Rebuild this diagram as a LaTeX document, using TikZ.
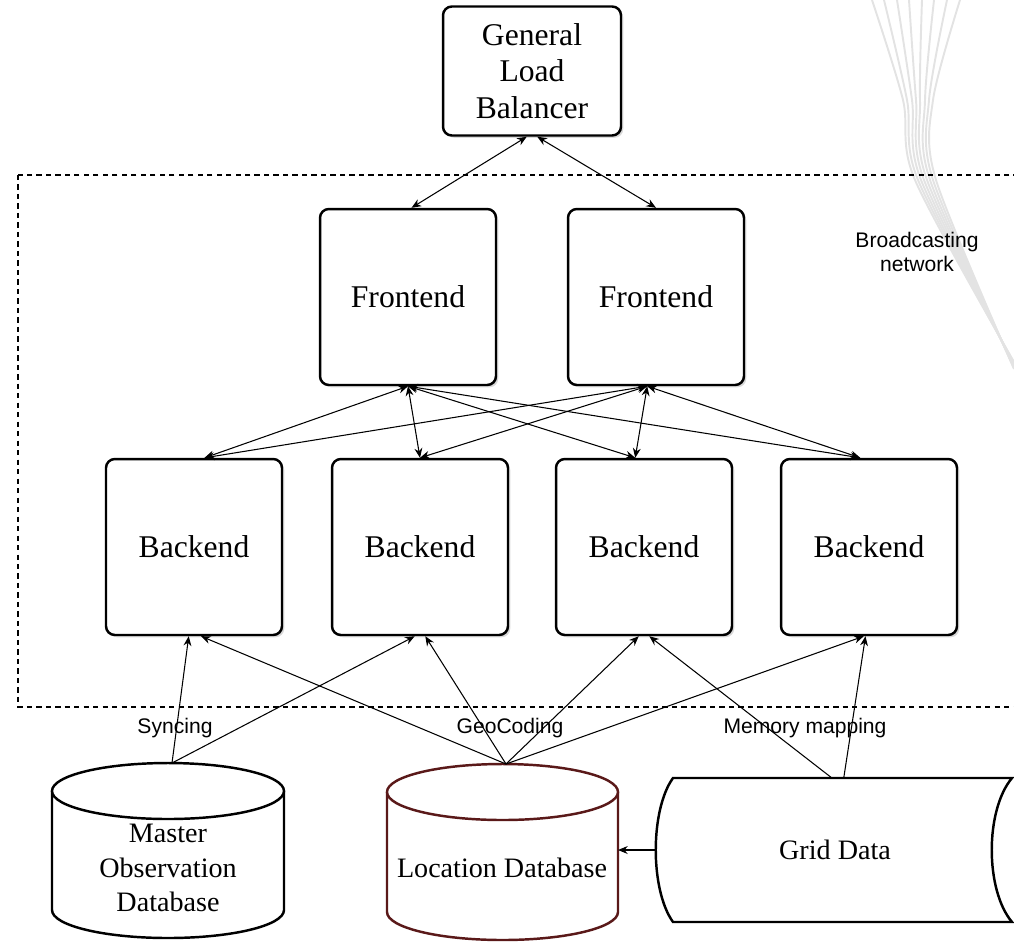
\documentclass[tikz,border=0pt]{standalone}
\usepackage{fontspec}
\setmainfont{Liberation Serif}
\setsansfont{Liberation Sans}
\usepackage{tikz}
\usetikzlibrary{arrows.meta,shadows}
\definecolor{dbred}{RGB}{90,25,25}
\tikzset{
  font={\fontsize{18pt}{20.7pt}\selectfont},
  box/.style={draw=black,line width=1.4pt,rounded corners=5pt,fill=white,
    minimum width=3.52cm,minimum height=3.52cm,align=center,
    drop shadow={shadow xshift=1.3pt,shadow yshift=-1.3pt,opacity=0.3}},
  dbtext/.style={font={\fontsize{16pt}{19.6pt}\selectfont},align=center},
  lbl/.style={font={\sffamily\fontsize{12pt}{13.6pt}\selectfont},align=center},
  swoosh/.style={gray!22,line width=1.1pt},
  link/.style={black,line width=0.6pt,{Stealth[length=5.5pt,width=4.5pt]}-{Stealth[length=5.5pt,width=4.5pt]}},
  feed/.style={black,line width=0.6pt,-{Stealth[length=5.5pt,width=4.5pt]}},
  dbline/.style={line width=1.4pt,fill=white}}

\begin{document}
\begin{tikzpicture}[x=0.02cm,y=0.02cm]
\tikzstyle{every node}+=[inner sep=0pt]
\clip (0,0) rectangle (1014,-941);
\draw [swoosh] plot[smooth] coordinates {(872,0) (903,-100) (915,-180) (1014,-362)};
\draw [swoosh] plot[smooth] coordinates {(884,0) (907,-100) (918,-180) (1014,-363)};
\draw [swoosh] plot[smooth] coordinates {(897,0) (912,-100) (921,-180) (1014,-364)};
\draw [swoosh] plot[smooth] coordinates {(909,0) (916,-100) (924,-180) (1014,-365)};
\draw [swoosh] plot[smooth] coordinates {(922,0) (920,-100) (927,-180) (1014,-366)};
\draw [swoosh] plot[smooth] coordinates {(934,0) (925,-100) (930,-180) (1014,-367)};
\draw [swoosh] plot[smooth] coordinates {(947,0) (929,-100) (933,-180) (1014,-368)};
\draw [swoosh] plot[smooth] coordinates {(960,0) (933,-100) (936,-180) (1014,-369)};
\draw [black,line width=0.9pt,dash pattern=on 3pt off 2.4pt] (18,-175) rectangle (1030,-707);
\node [box,minimum width=3.56cm,minimum height=2.58cm] (glb) at (532,-71) {General\\Load\\Balancer};
\node [box] (fe1) at (408,-297) {Frontend};
\node [box] (fe2) at (656,-297) {Frontend};
\node [box] (be1) at (194,-547) {Backend};
\node [box] (be2) at (420,-547) {Backend};
\node [box] (be3) at (644,-547) {Backend};
\node [box] (be4) at (869,-547) {Backend};
\node [lbl] (bcast) at (917,-252) {Broadcasting\\network};
\draw [black,dbline] (52,-791) -- (52,-910) arc[start angle=180,end angle=360,x radius=116,y radius=28] -- (284,-791);
\draw [black,dbline] (168,-791) ellipse [x radius=116,y radius=28];
\node [dbtext] (mdb) at (168,-868) {Master\\Observation\\Database};
\coordinate (mdbtop) at (172,-763);
\draw [dbred,dbline] (387,-792) -- (387,-912) arc[start angle=180,end angle=360,x radius=115.5,y radius=28] -- (618,-792);
\draw [dbred,dbline] (502.5,-792) ellipse [x radius=115.5,y radius=28];
\node [dbtext] (ldb) at (502,-868) {Location Database};
\coordinate (ldbtop) at (506,-764);
\coordinate (ldbeast) at (618,-850);
\draw [black,dbline] (673,-778) -- (1012,-778) .. controls (985,-810) and (985,-890) .. (1012,-922) -- (673,-922) .. controls (650,-890) and (650,-810) .. cycle;
\node [dbtext,minimum width=7.1cm,minimum height=2.88cm] (gd) at (835,-850) {Grid Data};
\draw [link] ([xshift=-3pt]glb.south) -- ([xshift=2pt]fe1.north);
\draw [link] ([xshift=3pt]glb.south) -- (fe2.north);
\draw [link] (fe1.south) -- ([xshift=6pt]be1.north);
\draw [link] (fe1.south) -- (be2.north);
\draw [link] (fe1.south) -- ([xshift=-5pt]be3.north);
\draw [link] (fe1.south) -- ([xshift=-5pt]be4.north);
\draw [link] ([xshift=-5pt]fe2.south) -- ([xshift=6pt]be1.north);
\draw [link] ([xshift=-5pt]fe2.south) -- (be2.north);
\draw [link] ([xshift=-5pt]fe2.south) -- ([xshift=-5pt]be3.north);
\draw [link] ([xshift=-5pt]fe2.south) -- ([xshift=-5pt]be4.north);
\draw [feed] (mdbtop) -- ([xshift=-3pt]be1.south);
\draw [feed] (mdbtop) -- ([xshift=-3pt]be2.south);
\draw [feed] (ldbtop) -- ([xshift=4pt]be1.south);
\draw [feed] (ldbtop) -- ([xshift=3pt]be2.south);
\draw [feed] (ldbtop) -- ([xshift=-3pt]be3.south);
\draw [feed] (ldbtop) -- ([xshift=-3pt]be4.south);
\draw [feed] ([xshift=-2pt]gd.north) -- ([xshift=3pt]be3.south);
\draw [feed] ([xshift=5pt]gd.north) -- ([xshift=-2pt]be4.south);
\draw [feed] (gd.west) -- (ldbeast);
\node [lbl] (sync) at (175,-728) {Syncing};
\node [lbl] (geo) at (510,-728) {GeoCoding};
\node [lbl] (mmap) at (805,-728) {Memory mapping};
\end{tikzpicture}
\end{document}
